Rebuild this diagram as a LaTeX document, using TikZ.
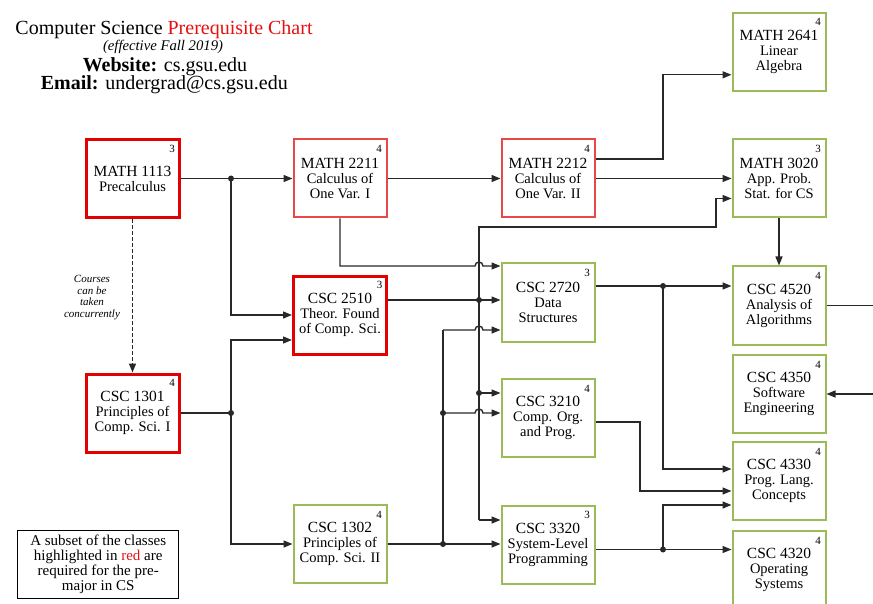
\documentclass[tikz,border=0pt]{standalone}
\usepackage{fontspec}
\setmainfont{Liberation Serif}
\usetikzlibrary{arrows.meta,calc}

\definecolor{boxgreen}{RGB}{155,187,89}
\definecolor{redthick}{RGB}{226,0,0}
\definecolor{redthin}{RGB}{232,72,72}
\definecolor{titlered}{RGB}{230,16,16}
\definecolor{wire}{RGB}{40,40,40}

\tikzset{
  box/.style={draw, line width=2pt, minimum width=93pt, minimum height=78pt,
    inner sep=0pt, align=center, font=\fontsize{14.5}{15}\selectfont},
  greenbox/.style={box, draw=boxgreen},
  redbox/.style={box, draw=redthick, line width=3pt},
  pinkbox/.style={box, draw=redthin},
  credit/.style={inner sep=0pt, font=\fontsize{11}{11}\selectfont},
  wireline/.style={draw=wire, line width=1.4pt},
  arr/.style={wireline, -{Triangle[length=9pt,width=7pt]}},
  dasharr/.style={arr, dash pattern=on 4pt off 2pt},
  dot/.style={fill=wire},
  headline/.style={anchor=base, inner sep=0pt, font=\fontsize{20}{20}\selectfont},
}

% course box: name, x, y, style, first line, remaining lines, credit hours
\newcommand\coursebox[7]{%
  \node[#4] (#1) at (#2,#3) {{\fontsize{15.5}{15.5}\selectfont #5}\\#6};
  \node[credit] at ($(#1.north east)+(-8.5,10.5)$) {#7};
}
% hop of a horizontal wire over trunk A
\newcommand\hop{arc[start angle=180, end angle=0, radius=4pt]}

\begin{document}
\begin{tikzpicture}[x=1pt, y=-1pt]
\useasboundingbox (0,0) rectangle (873,604);
\clip (0,0) rectangle (873,604);

% heading
\node[headline] (title) at (164,34.3) {Computer Science \textcolor{titlered}{Prerequisite Chart}};
\node[anchor=base, inner sep=0pt, font=\itshape\fontsize{14.7}{15}\selectfont] (eff) at (163,50.5) {(effective Fall 2019)};
\node[headline] (web) at (165,71.5) {\textbf{Website:} cs.gsu.edu};
\node[headline] (mail) at (164.3,90) {\textbf{Email:} undergrad@cs.gsu.edu};

% courses
\coursebox{m1113}{132.5}{178.5}{redbox}{MATH 1113}{Precalculus}{3}
\coursebox{m2211}{340}{178.5}{pinkbox}{MATH 2211}{Calculus of\\One Var. I}{4}
\coursebox{m2212}{548}{178.5}{pinkbox}{MATH 2212}{Calculus of\\One Var. II}{4}
\coursebox{m3020}{779}{178.5}{greenbox}{MATH 3020}{App. Prob.\\Stat. for CS}{3}
\coursebox{m2641}{779}{51.8}{greenbox}{MATH 2641}{Linear\\Algebra}{4}
\coursebox{c2510}{340}{315}{redbox}{CSC 2510}{Theor. Found\\of Comp. Sci.}{3}
\coursebox{c2720}{548}{302.5}{greenbox}{CSC 2720}{Data\\Structures}{3}
\coursebox{c4520}{779}{305.5}{greenbox}{CSC 4520}{Analysis of\\Algorithms}{4}
\coursebox{c4350}{779}{394}{greenbox}{CSC 4350}{Software\\Engineering}{4}
\coursebox{c1301}{132.5}{413}{redbox}{CSC 1301}{Principles of\\Comp. Sci. I}{4}
\coursebox{c3210}{548}{418}{greenbox}{CSC 3210}{Comp. Org.\\and Prog.}{4}
\coursebox{c4330}{779}{481}{greenbox}{CSC 4330}{Prog. Lang.\\Concepts}{4}
\coursebox{c1302}{340}{544}{greenbox}{CSC 1302}{Principles of\\Comp. Sci. II}{4}
\coursebox{c3320}{548}{544.5}{greenbox}{CSC 3320}{System-Level\\Programming}{3}
\coursebox{c4320}{779}{570}{greenbox}{CSC 4320}{Operating\\Systems}{4}

% legend
\node[draw=black, line width=1.2pt, minimum width=161pt, minimum height=68pt, inner sep=0pt,
      align=center, font=\fontsize{15}{15}\selectfont] (legend) at (98.2,564.2)
  {A subset of the classes\\highlighted in \textcolor{titlered}{red} are\\required for the pre-\\major in CS};

% concurrency note
\node[align=center, inner sep=0pt, font=\itshape\fontsize{11}{11.4}\selectfont] (note) at (92,297.5)
  {Courses\\can be\\taken\\concurrently};

% wire reference points
\coordinate (j1) at (231,178.5);
\coordinate (j2) at (231,413);
\coordinate (ta) at (479,0);
\coordinate (td) at (716,0);
\coordinate (tc) at (663,0);
\coordinate (te) at (640,0);
\coordinate (hy) at (0,266);
\coordinate (a1) at (479,227);
\coordinate (jA1) at (479,300);
\coordinate (jA2) at (479,393);
\coordinate (aBot) at (479,520);
\coordinate (bTop) at (443,330);
\coordinate (jB1) at (443,413);
\coordinate (jB2) at (443,544);
\coordinate (jC1) at (663,286);
\coordinate (jC2) at (663,549.5);
\coordinate (edgeR) at (880,0);
\coordinate (o3320) at ($(c3320.east)+(0,5)$);

% precalculus and CS I
\draw[arr] (m1113.east) -- (m2211.west);
\draw[arr] (j1) |- (c2510.west);
\draw[wireline] (c1301.east) -- (j2);
\draw[arr] (j2) |- ($(c2510.west)+(0,25)$);
\draw[arr] (j2) |- (c1302.west);
\draw[dasharr] (m1113.south) -- (c1301.north);

% calculus chain
\draw[arr] (m2211.east) -- (m2212.west);
\draw[arr] (m2212.east) -- (m3020.west);
\draw[arr] ($(m2212.east)+(0,-19.5)$) -| ($(m2641.west -| tc)+(0,23)$) -- ($(m2641.west)+(0,23)$);
\draw[arr] (m3020.south) -- (c4520.north);
\draw[arr] (m2211.south) -- (m2211.south |- hy) -- ($(hy -| ta)+(-4,0)$) \hop -- (hy -| c2720.west);

% trunk A (from CSC 2510)
\draw[arr] ($(c2510.east)+(0,-15)$) -- ($(c2720.west)+(0,-2.5)$);
\draw[arr] (aBot) -- (a1) -| ($(m3020.west -| td)+(0,20)$) -- ($(m3020.west)+(0,20)$);
\draw[arr] (aBot) -- (aBot -| c3320.west);
\draw[arr] (jA2) -- (jA2 -| c3210.west);

% trunk B (from CSC 1302)
\draw[arr] (c1302.east) -- (c1302.east -| c3320.west);
\draw[wireline] (jB2) -- (bTop);
\draw[arr] (bTop) -- ($(bTop -| ta)+(-4,0)$) \hop -- (bTop -| c2720.west);
\draw[arr] (jB1) -- ($(jB1 -| ta)+(-4,0)$) \hop -- (jB1 -| c3210.west);

% upper-level courses
\draw[arr] ($(c2720.east)+(0,-16.5)$) -- ($(c4520.west)+(0,-19.5)$);
\draw[arr] (jC1) |- ($(c4330.west)+(0,-12)$);
\draw[arr] ($(c3210.east)+(0,4)$) -| ($(c4330.west -| te)+(0,10)$) -- ($(c4330.west)+(0,10)$);
\draw[arr] (o3320) -- (o3320 -| c4320.west);
\draw[arr] (jC2) |- ($(c4330.west)+(0,24)$);
\draw[wireline] (c4520.east) -- (c4520.east -| edgeR);
\draw[arr] (c4350.east -| edgeR) -- (c4350.east);

% junction dots
\foreach \j in {j1,j2,jA1,jA2,jB1,jB2,jC1,jC2}
  \fill[dot] (\j) circle[radius=3pt];
\end{tikzpicture}
\end{document}
